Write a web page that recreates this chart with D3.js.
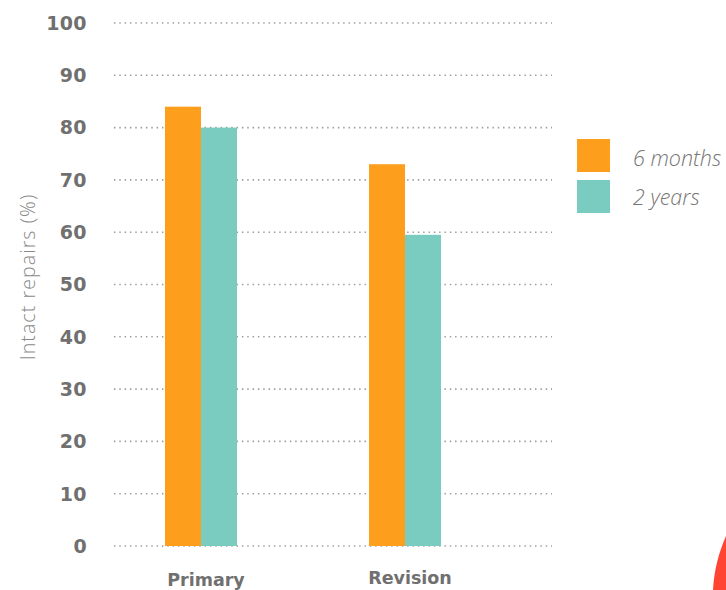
<!DOCTYPE html>
<html>
<head>
<meta charset="utf-8">
<script src="https://cdn.jsdelivr.net/npm/d3@7"></script>
<style>
  html, body { margin: 0; padding: 0; background: #fff; }
  svg { display: block; }
</style>
</head>
<body>
<svg id="chart" width="726" height="590"></svg>
<script>
// Intact repairs by procedure type and follow-up interval
const categories = ["Primary", "Revision"];
const seriesNames = ["6 months", "2 years"];
const sixMonths = [84, 73];
const twoYears = [80, 59.5];
const yTicks = [0, 10, 20, 30, 40, 50, 60, 70, 80, 90, 100];
const colors = ["#FD9E1C", "#7ACBC0"];

const svg = d3.select("#chart");
const grey = "#707070";

const y = d3.scaleLinear().domain([0, 100]).range([546, 23]);
const x = d3.scalePoint().domain(categories).range([201, 405]);
const xs = d3.scaleBand().domain(seriesNames).range([-36, 36]).padding(0);

// dotted gridlines
svg.append("g").selectAll("line").data(yTicks).join("line")
  .attr("x1", 114).attr("x2", 552)
  .attr("y1", d => y(d)).attr("y2", d => y(d))
  .attr("stroke", "#9a9a9a").attr("stroke-width", 1.6)
  .attr("stroke-dasharray", "1.4,3.93");

// y tick labels
svg.append("g").selectAll("text").data(yTicks).join("text")
  .attr("x", 87).attr("y", d => y(d))
  .attr("dy", "0.36em")
  .attr("text-anchor", "end")
  .attr("font-family", "'DejaVu Sans', sans-serif")
  .attr("font-weight", 700)
  .attr("font-size", 19)
  .attr("letter-spacing", 0.4)
  .attr("fill", grey)
  .text(d => d);

// y axis title
svg.append("text")
  .attr("transform", "translate(35,277) rotate(-90)")
  .attr("text-anchor", "middle")
  .attr("font-family", "'Open Sans', sans-serif")
  .attr("font-weight", 300)
  .attr("font-size", 19.5)
  .attr("letter-spacing", 1.1)
  .attr("fill", "#8a8a8a")
  .text("Intact repairs (%)");

// bars
const rows = categories.map((c, i) => ({ cat: c, vals: [sixMonths[i], twoYears[i]] }));
const groups = svg.append("g").selectAll("g").data(rows).join("g")
  .attr("transform", d => `translate(${x(d.cat)},0)`);
groups.selectAll("rect")
  .data(d => d.vals.map((v, j) => ({ name: seriesNames[j], v, j })))
  .join("rect")
  .attr("x", d => xs(d.name))
  .attr("width", xs.bandwidth())
  .attr("y", d => y(d.v))
  .attr("height", d => y(0) - y(d.v))
  .attr("fill", d => colors[d.j]);

// category labels
svg.append("g").selectAll("text").data(categories).join("text")
  .attr("x", d => x(d) + 5)
  .attr("y", (d, i) => i === 0 ? 586 : 584)
  .attr("text-anchor", "middle")
  .attr("font-family", "'DejaVu Sans', sans-serif")
  .attr("font-weight", 700)
  .attr("font-size", 17.5)
  .attr("fill", grey)
  .text(d => d);

// legend
const legend = svg.append("g").selectAll("g").data(seriesNames).join("g")
  .attr("transform", (d, i) => `translate(577,${139 + i * 41})`);
legend.append("rect")
  .attr("width", 33).attr("height", 33)
  .attr("fill", (d, i) => colors[i]);
legend.append("text")
  .attr("x", 56).attr("y", (d, i) => i === 0 ? 27 : 25)
  .attr("font-family", "'Open Sans', sans-serif")
  .attr("font-weight", 300)
  .attr("font-style", "italic")
  .attr("font-size", 21.5)
  .attr("fill", "#767676")
  .text(d => d);

// corner accent
svg.append("path")
  .attr("d", "M726,536 C719,552 714,570 713,590 L726,590 Z")
  .attr("fill", "#FF4433");
</script>
</body>
</html>
